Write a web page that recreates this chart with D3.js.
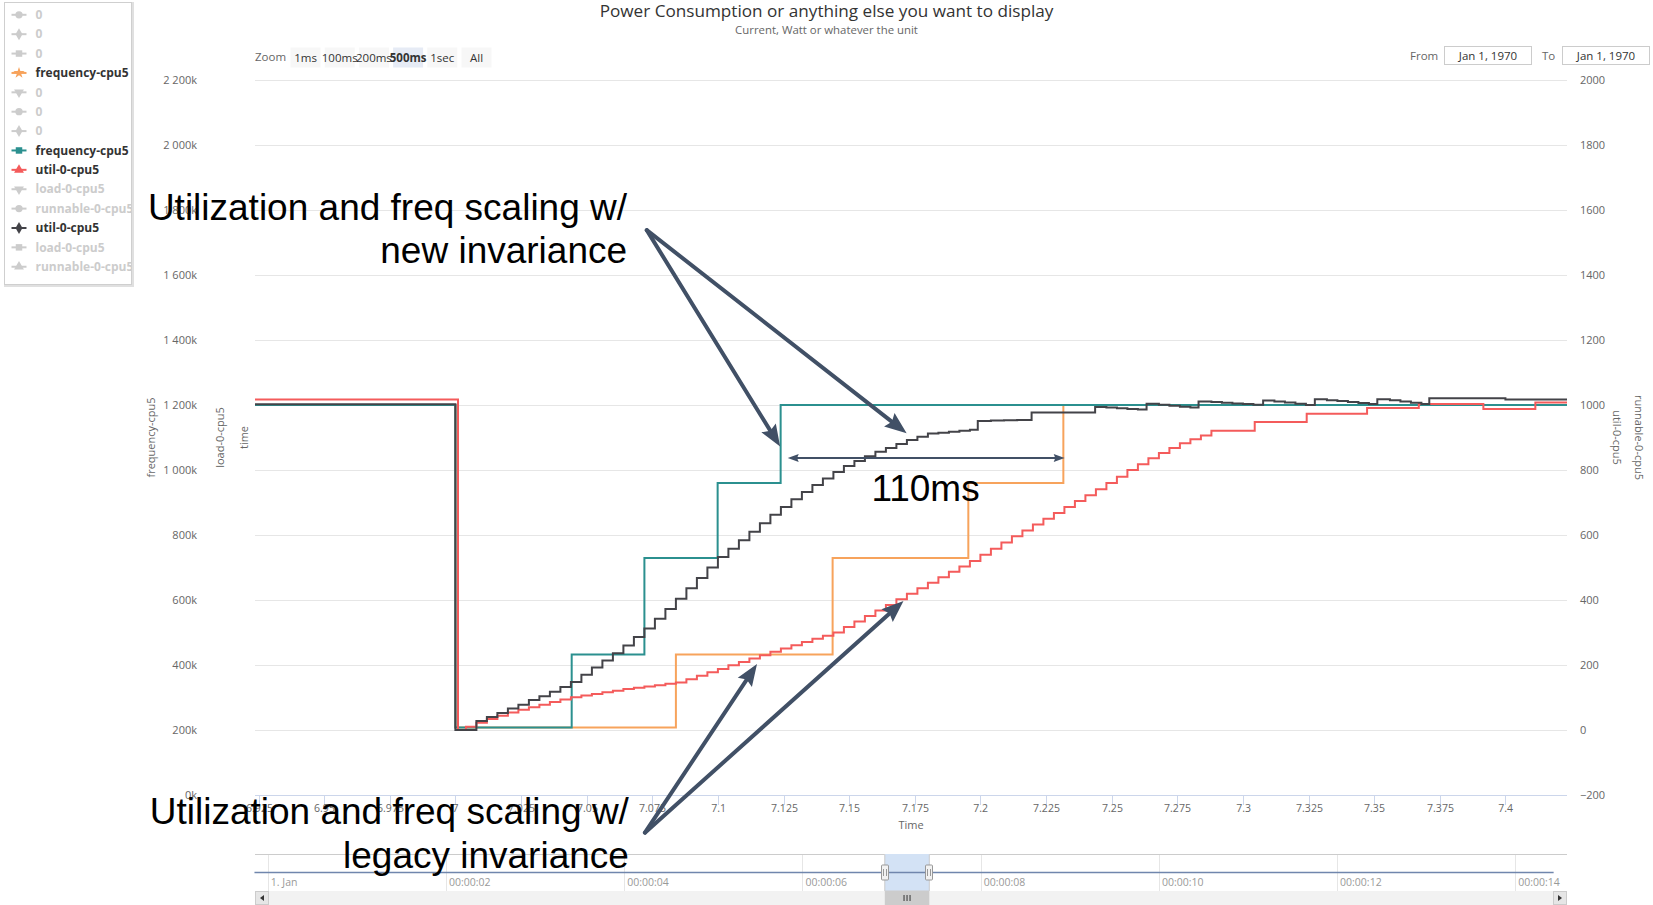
<!DOCTYPE html>
<html>
<head>
<meta charset="utf-8">
<title>Power Consumption</title>
<script src="https://cdn.jsdelivr.net/npm/d3@7/dist/d3.min.js"></script>
<style>
    body { margin: 0; background: #ffffff; }
    #chart text { font-family: "Open Sans", "DejaVu Sans", sans-serif; }
    #chart text.note { font-family: "Liberation Sans", Arial, sans-serif; }
</style>
</head>
<body>
<div id="chart"></div>
<script>
// ---- data -------------------------------------------------------------

var legendNames = ['0', '0', '0', 'frequency-cpu5', '0', '0', '0', 'frequency-cpu5',
    'util-0-cpu5', 'load-0-cpu5', 'runnable-0-cpu5', 'util-0-cpu5', 'load-0-cpu5', 'runnable-0-cpu5'];
var legendSymbols = ['circle', 'diamond', 'square', 'star', 'triangle-down', 'circle', 'diamond',
    'square', 'triangle', 'triangle-down', 'circle', 'diamond', 'square', 'triangle'];
var legendColors = [null, null, null, '#f7a35c', null, null, null, '#2b908f',
    '#f45b5b', null, null, '#434348', null, null];

var xTicks = [6.925, 6.95, 6.975, 7, 7.025, 7.05, 7.075, 7.1, 7.125, 7.15, 7.175,
    7.2, 7.225, 7.25, 7.275, 7.3, 7.325, 7.35, 7.375, 7.4];
var freqTicks = [0, 200000, 400000, 600000, 800000, 1000000, 1200000, 1400000,
    1600000, 1800000, 2000000, 2200000];
var utilTicks = [-200, 0, 200, 400, 600, 800, 1000, 1200, 1400, 1600, 1800, 2000];
var navTicks = [0, 2, 4, 6, 8, 10, 12, 14];
var navTickLabels = ['1. Jan', '00:00:02', '00:00:04', '00:00:06', '00:00:08',
    '00:00:10', '00:00:12', '00:00:14'];
var zoomButtons = ['1ms', '100ms', '200ms', '500ms', '1sec', 'All'];

// frequency-cpu5, legacy invariance (orange)  [time s, kHz]
var freqLegacy = [[6.90, 1200000], [7.000, 208000], [7.084, 432000], [7.1437, 729000],
    [7.1954, 960000], [7.2316, 1200000], [7.43, 1200000]];

// frequency-cpu5, new invariance (teal)
var freqNew = [[6.90, 1200000], [7.000, 208000], [7.0443, 432000], [7.0720, 729000],
    [7.0999, 960000], [7.1239, 1200000], [7.43, 1200000]];

// util-0-cpu5, legacy invariance (red)
var utilLegacy = [[6.90, 1017], [7.001, 0], [7.004, 10], [7.008, 22], [7.012, 34], [7.016, 44],
    [7.020, 54], [7.024, 62], [7.028, 70], [7.032, 78], [7.036, 86], [7.040, 94], [7.044, 101],
    [7.048, 106], [7.052, 111], [7.056, 116], [7.060, 121], [7.064, 126], [7.068, 130],
    [7.072, 134], [7.076, 138], [7.080, 142], [7.084, 146], [7.088, 156], [7.092, 167],
    [7.096, 178], [7.100, 188], [7.104, 199], [7.108, 209], [7.112, 220], [7.116, 230],
    [7.120, 241], [7.124, 251], [7.128, 261], [7.132, 271], [7.136, 281], [7.140, 290],
    [7.144, 300], [7.148, 317], [7.152, 334], [7.156, 351], [7.160, 368], [7.164, 385],
    [7.168, 402], [7.172, 419], [7.176, 436], [7.180, 453], [7.184, 470], [7.188, 487],
    [7.192, 503], [7.196, 520], [7.200, 539], [7.204, 558], [7.208, 577], [7.212, 596],
    [7.216, 614], [7.220, 632], [7.224, 650], [7.228, 668], [7.232, 686], [7.236, 705],
    [7.240, 722], [7.244, 741], [7.248, 760], [7.252, 779], [7.256, 800], [7.260, 818],
    [7.264, 836], [7.268, 852], [7.272, 868], [7.276, 882], [7.280, 895], [7.284, 906],
    [7.288, 921], [7.3045, 948], [7.3243, 973], [7.3473, 991], [7.367, 1003], [7.3916, 988],
    [7.4114, 1008], [7.43, 1008]];

// util-0-cpu5, new invariance (black)
var utilNew = [[6.90, 1002], [7.000, 0], [7.008, 28], [7.012, 40], [7.016, 52], [7.020, 66],
    [7.024, 78], [7.028, 92], [7.032, 104], [7.036, 118], [7.040, 132], [7.044, 148],
    [7.048, 170], [7.052, 192], [7.056, 214], [7.060, 236], [7.064, 260], [7.068, 286],
    [7.072, 312], [7.076, 342], [7.080, 372], [7.084, 404], [7.088, 436], [7.092, 468],
    [7.096, 500], [7.100, 532], [7.104, 558], [7.108, 584], [7.112, 610], [7.116, 636],
    [7.120, 662], [7.124, 686], [7.128, 710], [7.132, 732], [7.136, 754], [7.140, 774],
    [7.144, 794], [7.148, 812], [7.152, 828], [7.156, 842], [7.160, 856], [7.164, 868],
    [7.168, 880], [7.172, 892], [7.176, 902], [7.180, 912], [7.184, 915], [7.188, 918],
    [7.192, 921], [7.196, 924], [7.199, 951], [7.204, 952], [7.209, 953], [7.214, 954],
    [7.2195, 977], [7.2437, 994], [7.248, 992], [7.252, 990], [7.256, 988], [7.260, 986],
    [7.2633, 1004], [7.268, 1001], [7.272, 998], [7.276, 995], [7.280, 992], [7.2831, 1011],
    [7.288, 1009], [7.292, 1007], [7.296, 1005], [7.300, 1003], [7.304, 1001], [7.3077, 1014],
    [7.312, 1011], [7.316, 1008], [7.320, 1004], [7.324, 1000], [7.3274, 1018], [7.332, 1015],
    [7.336, 1012], [7.340, 1009], [7.344, 1006], [7.348, 1003], [7.3512, 1018], [7.356, 1015],
    [7.360, 1011], [7.364, 1007], [7.368, 1003], [7.371, 1021], [7.400, 1017], [7.43, 1017]];

// navigator series (whole trace, seconds)
var navigatorSeries = [[-0.15, 0], [14.43, 0]];

// annotations, anchored in (time, util) units
var notes = [
    { lines: ['Utilization and freq scaling w/', 'new invariance'], t: 7.0654, v: 1570 },
    { lines: ['Utilization and freq scaling w/', 'legacy invariance'], t: 7.0661, v: -289 }
];
var arrows = [
    { from: [7.0729, 1538], to: [7.1237, 872] },
    { from: [7.0729, 1538], to: [7.1719, 913] },
    { from: [7.0722, -316], to: [7.1149, 203] },
    { from: [7.0722, -316], to: [7.1707, 397] }
];
var spanArrow = { from: 7.1266, to: 7.2321, v: 837, label: '110ms', labelT: 7.1791, labelV: 705 };

// ---- layout ------------------------------------------------------------

var width = 1653,
    height = 905,
    plotLeft = 255,
    plotRight = 1567,
    plotTop = 80,
    plotBottom = 795,
    navTop = 854,
    navBottom = 891,
    gridColor = '#e6e6e6',
    axisColor = '#ccd6eb',
    labelColor = '#666666',
    arrowColor = '#415066'
;

var svg = d3.select('#chart')
    .append('svg')
    .attr('width', width)
    .attr('height', height)
;

var x = d3.scaleLinear().domain([6.92366, 7.42346]).range([plotLeft, plotRight]);
var yFreq = d3.scaleLinear().domain([0, 2200000]).range([plotBottom, plotTop]);
var yUtil = d3.scaleLinear().domain([-200, 2000]).range([plotBottom, plotTop]);
var navX = d3.scaleLinear().domain([-0.144, 14.58]).range([plotLeft, plotRight]);
var navY = d3.scaleLinear().domain([-1, 1]).range([navBottom, navTop]);

function fitText(sel, w) {
    var len = sel.node().getComputedTextLength();
    sel.attr('font-size', parseFloat(sel.attr('font-size')) * w / len);
}

// ---- titles ------------------------------------------------------------

svg.append('text')
    .attr('x', width / 2).attr('y', 16.5)
    .attr('text-anchor', 'middle')
    .attr('font-size', 16)
    .attr('fill', '#333333')
    .text('Power Consumption or anything else you want to display')
    .call(fitText, 454)
;
svg.append('text')
    .attr('x', width / 2).attr('y', 33.5)
    .attr('text-anchor', 'middle')
    .attr('font-size', 10.5)
    .attr('fill', labelColor)
    .text('Current, Watt or whatever the unit')
    .call(fitText, 183)
;

// ---- range selector ----------------------------------------------------

svg.append('text')
    .attr('x', 255).attr('y', 61)
    .attr('font-size', 11.5)
    .attr('fill', labelColor)
    .text('Zoom')
;

var buttons = svg.selectAll('g.button')
    .data(zoomButtons)
    .enter()
    .append('g')
        .attr('class', 'button')
        .attr('transform', function(d, i) { return 'translate(' + (305.5 + i * 34.2) + ',0)'; })
;
buttons.append('rect')
    .attr('x', -15).attr('y', 47.5)
    .attr('width', 30).attr('height', 20)
    .attr('fill', function(d, i) { return i === 3 ? '#e6ebf5' : '#f7f7f7'; })
;
buttons.append('text')
    .attr('y', 61.5)
    .attr('text-anchor', 'middle')
    .attr('font-size', 11.5)
    .attr('font-weight', function(d, i) { return i === 3 ? 'bold' : 'normal'; })
    .attr('fill', '#333333')
    .text(function(d) { return d; })
;

[['From', 1410, 1444.5], ['To', 1542, 1562.5]].forEach(function(f) {
    svg.append('text')
        .attr('x', f[1]).attr('y', 59.5)
        .attr('font-size', 11.5)
        .attr('fill', labelColor)
        .text(f[0]);
    svg.append('rect')
        .attr('x', f[2]).attr('y', 46.5)
        .attr('width', 87).attr('height', 18)
        .attr('fill', '#ffffff')
        .attr('stroke', '#cccccc');
    svg.append('text')
        .attr('x', f[2] + 43.5).attr('y', 59.5)
        .attr('text-anchor', 'middle')
        .attr('font-size', 11.5)
        .attr('fill', '#333333')
        .text('Jan 1, 1970');
});

// ---- grid and axes -----------------------------------------------------

svg.append('g')
    .selectAll('line')
    .data(freqTicks.slice(1))
    .enter()
    .append('line')
        .attr('x1', plotLeft).attr('x2', plotRight)
        .attr('y1', function(d) { return Math.round(yFreq(d)) + 0.5; })
        .attr('y2', function(d) { return Math.round(yFreq(d)) + 0.5; })
        .attr('stroke', gridColor)
;

var kFormat = d3.format(',');
svg.append('g')
    .selectAll('text')
    .data(freqTicks)
    .enter()
    .append('text')
        .attr('x', 197)
        .attr('y', function(d) { return yFreq(d) + 4; })
        .attr('text-anchor', 'end')
        .attr('font-size', 11)
        .attr('fill', labelColor)
        .text(function(d) { return kFormat(d / 1000).replace(/,/g, ' ') + 'k'; })
;

svg.append('g')
    .selectAll('text')
    .data(utilTicks)
    .enter()
    .append('text')
        .attr('x', 1580)
        .attr('y', function(d) { return yUtil(d) + 4; })
        .attr('font-size', 11)
        .attr('fill', labelColor)
        .text(function(d) { return d < 0 ? '\u2212' + (-d) : d; })
;

// x axis
svg.append('line')
    .attr('x1', plotLeft).attr('x2', plotRight)
    .attr('y1', plotBottom + 0.5).attr('y2', plotBottom + 0.5)
    .attr('stroke', axisColor)
;
var xTick = svg.append('g')
    .selectAll('g')
    .data(xTicks)
    .enter()
    .append('g')
        .attr('transform', function(d) { return 'translate(' + (Math.round(x(d)) + 0.5) + ',0)'; })
;
xTick.append('line')
    .attr('y1', plotBottom).attr('y2', plotBottom + 10)
    .attr('stroke', axisColor)
;
xTick.append('text')
    .attr('y', 812)
    .attr('text-anchor', 'middle')
    .attr('font-size', 10.5)
    .attr('fill', labelColor)
    .text(function(d) { return String(+d.toFixed(3)); })
;
svg.append('text')
    .attr('x', (plotLeft + plotRight) / 2).attr('y', 828.5)
    .attr('text-anchor', 'middle')
    .attr('font-size', 11)
    .attr('fill', labelColor)
    .text('Time')
;

// axis titles
[['frequency-cpu5', 154.5, -90], ['load-0-cpu5', 224, -90], ['time', 247.5, -90],
 ['util-0-cpu5', 1613, 90], ['runnable-0-cpu5', 1635, 90]].forEach(function(a) {
    svg.append('text')
        .attr('transform', 'translate(' + a[1] + ',' + ((plotTop + plotBottom) / 2) + ') rotate(' + a[2] + ')')
        .attr('text-anchor', 'middle')
        .attr('font-size', 11)
        .attr('fill', labelColor)
        .text(a[0]);
});

// ---- series ------------------------------------------------------------

svg.append('clipPath')
    .attr('id', 'plot-clip')
    .append('rect')
        .attr('x', plotLeft).attr('y', plotTop - 5)
        .attr('width', plotRight - plotLeft).attr('height', plotBottom - plotTop + 5)
;

var series = [
    { data: freqLegacy, color: '#f7a35c', y: yFreq },
    { data: freqNew, color: '#2b908f', y: yFreq },
    { data: utilLegacy, color: '#f45b5b', y: yUtil },
    { data: utilNew, color: '#434348', y: yUtil }
];

var plot = svg.append('g').attr('clip-path', 'url(#plot-clip)');
series.forEach(function(s) {
    var line = d3.line()
        .x(function(d) { return x(d[0]); })
        .y(function(d) { return s.y(d[1]); })
        .curve(d3.curveStepAfter)
    ;
    plot.append('path')
        .datum(s.data)
        .attr('d', line)
        .attr('fill', 'none')
        .attr('stroke', s.color)
        .attr('stroke-width', 2)
        .attr('stroke-linejoin', 'miter')
    ;
});

// ---- legend ------------------------------------------------------------

var symbolTypes = {
    'circle': d3.symbolCircle, 'diamond': d3.symbolDiamond, 'square': d3.symbolSquare,
    'star': d3.symbolStar, 'triangle': d3.symbolTriangle, 'triangle-down': d3.symbolTriangle
};

svg.append('rect')
    .attr('x', 5.5).attr('y', 3.5)
    .attr('width', 127).attr('height', 282)
    .attr('fill', 'none')
    .attr('stroke', 'rgba(0,0,0,0.12)')
    .attr('stroke-width', 3)
;
svg.append('rect')
    .attr('x', 4.5).attr('y', 2.5)
    .attr('width', 127).attr('height', 282)
    .attr('fill', '#ffffff')
    .attr('stroke', '#cfcfcf')
;
svg.append('clipPath')
    .attr('id', 'legend-clip')
    .append('rect')
        .attr('x', 5).attr('y', 3).attr('width', 126).attr('height', 281)
;

var legendItem = svg.append('g')
    .attr('clip-path', 'url(#legend-clip)')
    .selectAll('g')
    .data(legendNames)
    .enter()
    .append('g')
        .attr('transform', function(d, i) { return 'translate(0,' + (14.8 + i * 19.38) + ')'; })
;
legendItem.append('line')
    .attr('x1', 11.5).attr('x2', 26.5)
    .attr('stroke', function(d, i) { return legendColors[i] || '#cccccc'; })
    .attr('stroke-width', 2)
;
legendItem.append('path')
    .attr('transform', function(d, i) {
        return 'translate(19,0)' + (legendSymbols[i] === 'triangle-down' ? ' rotate(180)' : '');
    })
    .attr('d', function(d, i) {
        var t = legendSymbols[i];
        return d3.symbol().type(symbolTypes[t]).size(t === 'star' ? 40 : 42)();
    })
    .attr('fill', function(d, i) { return legendColors[i] || '#cccccc'; })
;
legendItem.append('text')
    .attr('x', 35.5).attr('y', 4.2)
    .attr('font-size', 12)
    .attr('font-weight', 'bold')
    .attr('fill', function(d, i) { return legendColors[i] ? '#333333' : '#cccccc'; })
    .text(function(d) { return d; })
;

// ---- navigator ---------------------------------------------------------

var d0 = navX(x.domain()[0]), d1 = navX(x.domain()[1]);

svg.append('g')
    .selectAll('line')
    .data(navTicks)
    .enter()
    .append('line')
        .attr('x1', function(d) { return Math.round(navX(d)) + 0.5; })
        .attr('x2', function(d) { return Math.round(navX(d)) + 0.5; })
        .attr('y1', navTop).attr('y2', navBottom)
        .attr('stroke', gridColor)
;
svg.append('g')
    .selectAll('text')
    .data(navTicks)
    .enter()
    .append('text')
        .attr('x', function(d) { return navX(d) + 3; })
        .attr('y', 886)
        .attr('font-size', 10.5)
        .attr('fill', '#999999')
        .text(function(d, i) { return navTickLabels[i]; })
;
svg.append('rect')
    .attr('x', d0).attr('y', navTop)
    .attr('width', d1 - d0).attr('height', navBottom - navTop)
    .attr('fill', '#d3e2f5')
;
svg.append('path')
    .datum(navigatorSeries)
    .attr('d', d3.line()
        .x(function(d) { return navX(d[0]); })
        .y(function(d) { return navY(d[1]); }))
    .attr('fill', 'none')
    .attr('stroke', '#7086ad')
    .attr('stroke-width', 1.5)
;
svg.append('path')
    .attr('d', 'M' + plotLeft + ',' + (navTop + 0.5) + 'H' + d0 + 'V' + navBottom +
        'H' + d1 + 'V' + (navTop + 0.5) + 'H' + plotRight)
    .attr('fill', 'none')
    .attr('stroke', '#cccccc')
;
[d0, d1].forEach(function(hx) {
    var g = svg.append('g').attr('transform', 'translate(' + Math.round(hx) + ',' + navY(0) + ')');
    g.append('rect')
        .attr('x', -3.5).attr('y', -7.5)
        .attr('width', 7).attr('height', 15)
        .attr('rx', 1)
        .attr('fill', '#f2f2f2')
        .attr('stroke', '#999999');
    g.append('path')
        .attr('d', 'M-1.5,-3.5V3.5M1.5,-3.5V3.5')
        .attr('stroke', '#999999');
});

// scrollbar
svg.append('rect')
    .attr('x', plotLeft).attr('y', navBottom)
    .attr('width', plotRight - plotLeft).attr('height', 14)
    .attr('fill', '#f2f2f2')
;
svg.append('rect')
    .attr('x', d0).attr('y', navBottom)
    .attr('width', d1 - d0).attr('height', 14)
    .attr('fill', '#cccccc')
;
svg.append('path')
    .attr('d', 'M' + ((d0 + d1) / 2 - 3) + ',' + (navBottom + 4) + 'v6m3,-6v6m3,-6v6')
    .attr('stroke', '#333333')
;
[[plotLeft, -1], [plotRight - 14, 1]].forEach(function(b) {
    svg.append('rect')
        .attr('x', b[0] + 0.5).attr('y', navBottom + 0.5)
        .attr('width', 13).attr('height', 13)
        .attr('fill', '#e6e6e6')
        .attr('stroke', '#cccccc');
    var cx = b[0] + 7, cy = navBottom + 7;
    svg.append('path')
        .attr('d', 'M' + (cx + 2 * b[1]) + ',' + cy + 'L' + (cx - 2 * b[1]) + ',' + (cy - 3) +
            'L' + (cx - 2 * b[1]) + ',' + (cy + 3) + 'Z')
        .attr('fill', '#333333');
});

// ---- annotations -------------------------------------------------------

notes.forEach(function(n) {
    var t = svg.append('text')
        .attr('class', 'note')
        .attr('text-anchor', 'end')
        .attr('font-size', 37)
        .attr('fill', '#000000')
    ;
    n.lines.forEach(function(l, i) {
        t.append('tspan')
            .attr('x', x(n.t))
            .attr('y', yUtil(n.v) + i * 43.6)
            .text(l);
    });
});

function arrowHead(p0, p1, len, w) {
    var dx = p1[0] - p0[0], dy = p1[1] - p0[1], d = Math.sqrt(dx * dx + dy * dy);
    var ux = dx / d, uy = dy / d;
    var bx = p1[0] - ux * len, by = p1[1] - uy * len;
    return 'M' + p1[0] + ',' + p1[1] +
        'L' + (bx - uy * w / 2) + ',' + (by + ux * w / 2) +
        'L' + (bx + ux * len * 0.15) + ',' + (by + uy * len * 0.15) +
        'L' + (bx + uy * w / 2) + ',' + (by - ux * w / 2) + 'Z';
}
function shorten(p0, p1, len) {
    var dx = p1[0] - p0[0], dy = p1[1] - p0[1], d = Math.sqrt(dx * dx + dy * dy);
    return [p1[0] - dx / d * len, p1[1] - dy / d * len];
}

arrows.forEach(function(a) {
    var p0 = [x(a.from[0]), yUtil(a.from[1])],
        p1 = [x(a.to[0]), yUtil(a.to[1])],
        e = shorten(p0, p1, 12);
    svg.append('line')
        .attr('x1', p0[0]).attr('y1', p0[1])
        .attr('x2', e[0]).attr('y2', e[1])
        .attr('stroke', arrowColor)
        .attr('stroke-width', 4)
        .attr('stroke-linecap', 'round')
    ;
    svg.append('path')
        .attr('d', arrowHead(p0, p1, 22, 17))
        .attr('fill', arrowColor)
    ;
});

var sa = [x(spanArrow.from), yUtil(spanArrow.v)],
    sb = [x(spanArrow.to), yUtil(spanArrow.v)];
svg.append('line')
    .attr('x1', sa[0] + 4).attr('y1', sa[1])
    .attr('x2', sb[0] - 4).attr('y2', sb[1])
    .attr('stroke', arrowColor)
    .attr('stroke-width', 2)
;
svg.append('path').attr('d', arrowHead(sb, sa, 11, 8)).attr('fill', arrowColor);
svg.append('path').attr('d', arrowHead(sa, sb, 11, 8)).attr('fill', arrowColor);

svg.append('text')
    .attr('class', 'note')
    .attr('x', x(spanArrow.labelT))
    .attr('y', yUtil(spanArrow.labelV))
    .attr('text-anchor', 'middle')
    .attr('font-size', 37)
    .attr('fill', '#000000')
    .text(spanArrow.label)
;
</script>
</body>
</html>
